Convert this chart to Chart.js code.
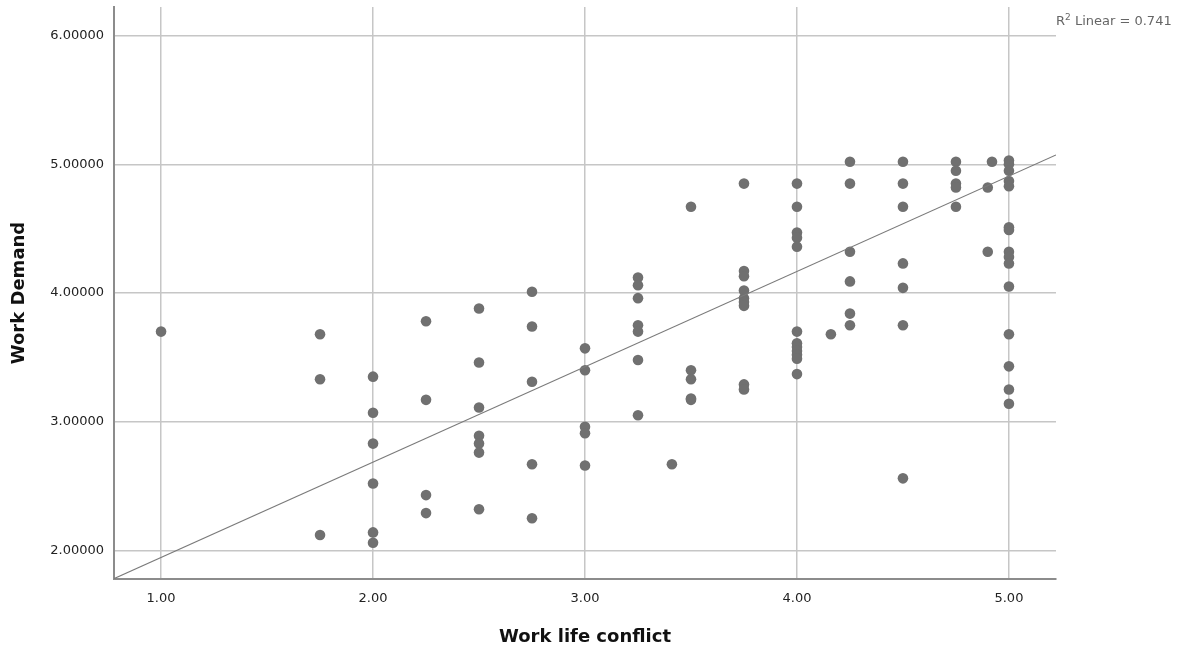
<!DOCTYPE html>
<html>
<head>
<meta charset="utf-8">
<title>Work Demand vs Work life conflict</title>
<script src="https://cdn.jsdelivr.net/npm/chart.js@4.4.1/dist/chart.umd.min.js"></script>
<style>
  html, body { margin: 0; padding: 0; background: #fff; }
  canvas { display: block; }
</style>
</head>
<body>
<canvas id="scatter" width="1183" height="654"></canvas>
<script>
// ---------- Data ----------
// Work life conflict (x) and Work Demand (y), one entry per respondent
const WORK_LIFE_CONFLICT = [
  1.00,
  1.75, 1.75, 1.75,
  2.00, 2.00, 2.00, 2.00, 2.00, 2.00,
  2.25, 2.25, 2.25, 2.25,
  2.50, 2.50, 2.50, 2.50, 2.50, 2.50, 2.50,
  2.75, 2.75, 2.75, 2.75, 2.75,
  3.00, 3.00, 3.00, 3.00, 3.00,
  3.25, 3.25, 3.25, 3.25, 3.25, 3.25, 3.25,
  3.41,
  3.50, 3.50, 3.50, 3.50, 3.50,
  3.75, 3.75, 3.75, 3.75, 3.75, 3.75, 3.75, 3.75, 3.75,
  4.00, 4.00, 4.00, 4.00, 4.00, 4.00, 4.00, 4.00, 4.00, 4.00, 4.00, 4.00,
  4.16,
  4.25, 4.25, 4.25, 4.25, 4.25, 4.25,
  4.50, 4.50, 4.50, 4.50, 4.50, 4.50, 4.50,
  4.75, 4.75, 4.75, 4.75, 4.75,
  4.90, 4.90,
  4.92,
  5.00, 5.00, 5.00, 5.00, 5.00, 5.00, 5.00, 5.00, 5.00, 5.00, 5.00, 5.00, 5.00, 5.00, 5.00
];
const WORK_DEMAND = [
  3.70,
  3.68, 3.33, 2.12,
  3.35, 3.07, 2.83, 2.52, 2.14, 2.06,
  3.78, 3.17, 2.43, 2.29,
  3.88, 3.46, 3.11, 2.89, 2.83, 2.76, 2.32,
  4.01, 3.74, 3.31, 2.67, 2.25,
  3.57, 3.40, 2.96, 2.91, 2.66,
  4.12, 4.06, 3.96, 3.75, 3.70, 3.48, 3.05,
  2.67,
  4.67, 3.40, 3.33, 3.18, 3.17,
  4.85, 4.17, 4.13, 4.02, 3.96, 3.93, 3.90, 3.29, 3.25,
  4.85, 4.67, 4.47, 4.43, 4.36, 3.70, 3.61, 3.58, 3.55, 3.52, 3.49, 3.37,
  3.68,
  5.02, 4.85, 4.32, 4.09, 3.84, 3.75,
  5.02, 4.85, 4.67, 4.23, 4.04, 3.75, 2.56,
  5.02, 4.95, 4.85, 4.82, 4.67,
  4.82, 4.32,
  5.02,
  5.03, 5.00, 4.95, 4.87, 4.83, 4.51, 4.49, 4.32, 4.28, 4.23, 4.05, 3.68, 3.43, 3.25, 3.14
];

// Fit line (Linear) and its R²
const FIT_INTERCEPT = 1.205;
const FIT_SLOPE = 0.7406;
const R_SQUARED = 0.741;

// Axes
const X_TICKS = [1, 2, 3, 4, 5];
const Y_TICKS = [2, 3, 4, 5, 6];
const X_MIN = 0.778, X_MAX = 5.222;
const Y_MIN = 1.778, Y_MAX = 6.222;

// ---------- Build datasets ----------
const points = WORK_LIFE_CONFLICT.map((x, i) => ({ x, y: WORK_DEMAND[i] }));
const fitLine = [X_MIN, X_MAX].map(x => ({ x, y: FIT_INTERCEPT + FIT_SLOPE * x }));

const GRID = "#c6c6c6";
const AXIS = "#8c8c8c";
const TICK_FONT = { family: "'DejaVu Sans', sans-serif", size: 13 };
const TITLE_FONT = { family: "'DejaVu Sans', sans-serif", size: 18, weight: "bold" };

// R² label in the top-right corner, with a raised "2"
const r2Label = {
  id: "r2Label",
  afterDraw(chart) {
    const ctx = chart.ctx;
    const base = 25;
    let x = chart.chartArea.right;
    ctx.save();
    ctx.fillStyle = "#666";
    ctx.textBaseline = "alphabetic";
    ctx.textAlign = "left";
    ctx.font = "13px 'DejaVu Sans'";
    ctx.fillText("R", x, base);
    x += ctx.measureText("R").width;
    ctx.font = "9px 'DejaVu Sans'";
    ctx.fillText("2", x, base - 5);
    x += ctx.measureText("2").width;
    ctx.font = "13px 'DejaVu Sans'";
    ctx.fillText(" Linear = " + R_SQUARED.toFixed(3), x, base);
    ctx.restore();
  }
};

new Chart(document.getElementById("scatter").getContext("2d"), {
  type: "scatter",
  data: {
    datasets: [
      {
        type: "line",
        label: "Linear",
        data: fitLine,
        borderColor: "#7a7a7a",
        borderWidth: 1.2,
        pointRadius: 0,
        fill: false,
        order: 0,
      },
      {
        label: "Work Demand",
        data: points,
        backgroundColor: "#707070",
        borderColor: "#707070",
        borderWidth: 0,
        pointRadius: 5.3,
        order: 1,
      },
    ],
  },
  options: {
    responsive: false,
    animation: false,
    layout: { padding: { top: 7, right: 127, left: 0, bottom: 0 } },
    plugins: {
      legend: { display: false },
      tooltip: { enabled: false },
    },
    scales: {
      x: {
        type: "linear",
        min: X_MIN,
        max: X_MAX,
        afterBuildTicks: s => { s.ticks = X_TICKS.map(v => ({ value: v })); },
        afterFit: s => { s.height = 75; s.paddingLeft = 0; s.paddingRight = 0; },
        ticks: { color: "#222", font: TICK_FONT, padding: 12, callback: v => v.toFixed(2) },
        grid: { color: GRID, lineWidth: 1.5, drawTicks: false },
        border: { display: true, color: AXIS, width: 2 },
        title: { display: true, text: "Work life conflict", color: "#111", font: TITLE_FONT, padding: { top: 0, bottom: 6 } },
      },
      y: {
        type: "linear",
        min: Y_MIN,
        max: Y_MAX,
        afterBuildTicks: s => { s.ticks = Y_TICKS.map(v => ({ value: v })); },
        afterFit: s => { s.width = 114; s.paddingTop = 0; s.paddingBottom = 0; },
        ticks: { color: "#222", font: TICK_FONT, padding: 10, callback: v => v.toFixed(5) },
        grid: { color: GRID, lineWidth: 1.5, drawTicks: false },
        border: { display: true, color: AXIS, width: 2 },
        title: { display: true, text: "Work Demand", color: "#111", font: TITLE_FONT, padding: { top: 9, bottom: 0 } },
      },
    },
  },
  plugins: [r2Label],
});
</script>
</body>
</html>
